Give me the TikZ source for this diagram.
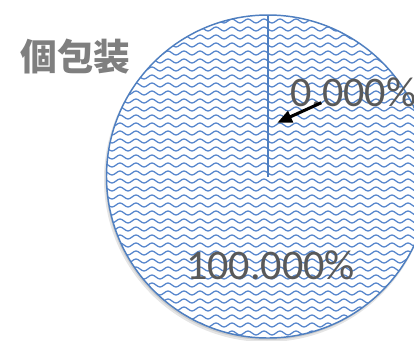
\documentclass[tikz,border=0pt]{standalone}
\usepackage{fontspec}
\setmainfont{Carlito}
\newfontfamily\cjkfont{Noto Sans CJK JP}
\usetikzlibrary{arrows.meta,calc}
\definecolor{pieblue}{HTML}{4F7FC0}
\definecolor{wavecol}{HTML}{5585CC}
\definecolor{lbl}{HTML}{595959}
\definecolor{ttl}{HTML}{7F7F7F}
\tikzset{
  wave/.style={draw=wavecol, line width=0.95pt},
  pieedge/.style={draw=pieblue, line width=1.1pt},
  datalbl/.style={text=lbl, font=\fontsize{31.6pt}{32pt}\selectfont, inner sep=0pt},
  titlelbl/.style={text=ttl, font=\cjkfont\bfseries\fontsize{27.5pt}{28pt}\selectfont, inner sep=0pt},
  leader/.style={draw=black, line width=2.3pt, -{Triangle[length=11pt,width=9pt]}}
}
\begin{document}
\begin{tikzpicture}[x=0.75pt,y=-0.75pt]
\useasboundingbox (0,0) rectangle (414,340);
\clip (0,0) rectangle (414,340);
\fill[white] (0,0) rectangle (414,340);
\coordinate (c) at (268,176.5);
\coordinate (top) at (268,15);
% shadow
\fill[black, opacity=0.10] ($(c)+(-1.5,3)$) circle[radius=162.5];
\fill[black, opacity=0.10] ($(c)+(-1,2)$) circle[radius=161.5];
\fill[white] (c) circle[radius=161.5];
\begin{scope}
  \clip (c) circle[radius=161.5];
  \foreach \yy in {13,21,...,341} {
    \draw[wave] (100,\yy) \foreach \i in {1,...,21} { sin ++(4,-2) cos ++(4,2) sin ++(4,2) cos ++(4,-2) };
  }
\end{scope}
\draw[pieedge] (c) circle[radius=161.5];
\draw[pieedge] (c) -- (top);
\node[titlelbl] (title) at (75.5,57) {個包装};
\node[datalbl, anchor=base west] (small) at (290,106.7) {0.000\%};
\node[datalbl, anchor=base] (big) at (270.5,279.5) {100.000\%};
\coordinate (tail) at (321.3,102.7);
\coordinate (tip) at (277.3,122.7);
\draw[leader] (tail) -- (tip);
\end{tikzpicture}
\end{document}
